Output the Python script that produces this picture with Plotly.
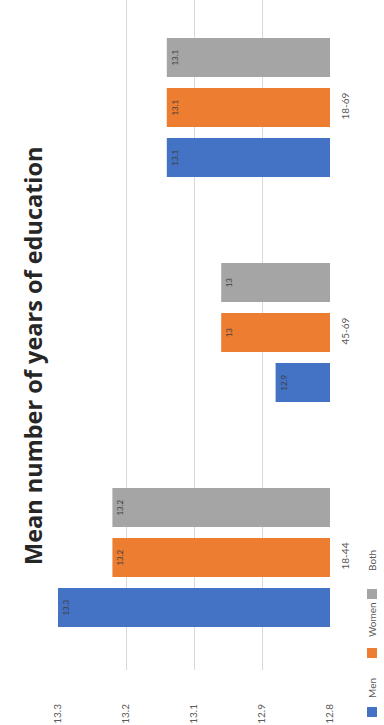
import plotly.graph_objects as go

# Mean years of education by age group and sex
age_groups = ["18-44", "45-69", "18-69"]
men = [13.3, 12.9, 13.1]
women = [13.2, 13, 13.1]
both = [13.2, 13, 13.1]

series_names = ["Men", "Women", "Both"]
series_colors = ["#4472C4", "#ED7D31", "#A5A5A5"]

# value axis gridlines and their printed labels
tick_values = [12.8, 12.925, 13.05, 13.175, 13.3]
tick_labels = ["12.8", "12.9", "13.1", "13.2", "13.3"]

title_text = "Mean number of years of education"

W, H = 384, 725
M_L, M_R, M_T, M_B = 58, 54, 0, 55
PW, PH = W - M_L - M_R, H - M_T - M_B


def px_x(x):
    return (x - M_L) / PW


def px_y(y):
    return (H - M_B - y) / PH


fig = go.Figure()
for name, vals, col in zip(series_names, [men, women, both], series_colors):
    fig.add_trace(go.Bar(
        y=age_groups, x=vals, name=name, orientation="h",
        marker=dict(color=col, line=dict(width=0)),
        text=vals, texttemplate="%{x}", textposition="inside",
        insidetextanchor="end", textangle=-90,
        insidetextfont=dict(size=8, color="#404040", family="Lato"),
        showlegend=False,
    ))

# rotated legend: swatch below its label
legend_rows = [(688, 712), (620, 653), (561, 594)]
for (ty, sy), name, col in zip(legend_rows, series_names, series_colors):
    fig.add_annotation(
        text=name, xref="paper", yref="paper", x=px_x(372), y=px_y(ty),
        textangle=-90, showarrow=False, xanchor="center", yanchor="middle",
        font=dict(size=10, color="#595959", family="Lato"),
    )
    fig.add_shape(
        type="rect", xref="paper", yref="paper",
        x0=px_x(367), x1=px_x(377), y0=px_y(sy + 5), y1=px_y(sy - 5),
        fillcolor=col, line=dict(width=0),
    )

fig.add_annotation(
    text="<b>" + title_text + "</b>", xref="paper", yref="paper",
    x=px_x(33), y=px_y(356), textangle=-90, showarrow=False,
    xanchor="center", yanchor="middle",
    font=dict(size=23.5, color="#262626", family="Open Sans"),
)

fig.update_layout(
    width=W, height=H,
    margin=dict(l=M_L, r=M_R, t=M_T, b=M_B, autoexpand=False),
    paper_bgcolor="white", plot_bgcolor="white",
    barmode="group", bargap=0.333, bargroupgap=0.22,
    font=dict(family="Lato", color="#595959"),
    xaxis=dict(
        range=[13.3, 12.8], tickvals=tick_values, ticktext=tick_labels,
        tickangle=-90, showgrid=True, gridcolor="#D9D9D9", gridwidth=1,
        zeroline=False, showline=False, ticks="", ticklabelstandoff=31,
        automargin=False, tickfont=dict(size=10, color="#595959"),
    ),
    yaxis=dict(
        type="category", categoryorder="array", categoryarray=age_groups,
        range=[-0.5, 2.478], side="right", tickangle=-90,
        showgrid=False, zeroline=False, showline=False, ticks="",
        automargin=False,
        ticklabelstandoff=8, tickfont=dict(size=10, color="#595959"),
    ),
)

fig.write_html("out.html")
